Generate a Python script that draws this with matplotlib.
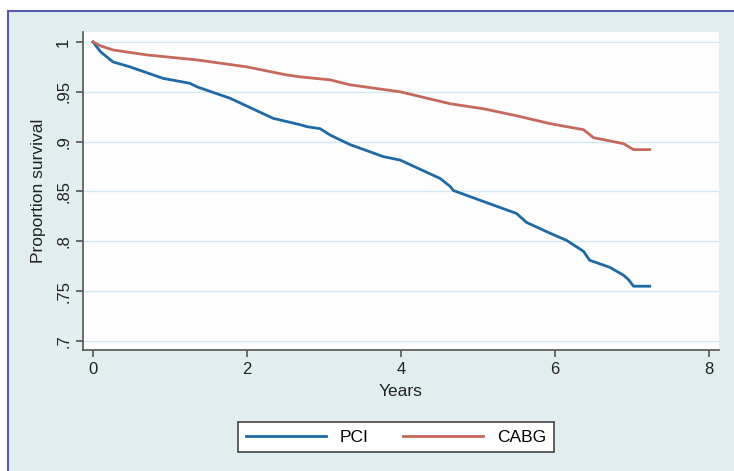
import matplotlib
matplotlib.use("Agg")
import matplotlib.pyplot as plt
from matplotlib.patches import Rectangle
from matplotlib.lines import Line2D

plt.rcParams["font.family"] = ["Liberation Sans", "DejaVu Sans"]

# curvas (anos, proporcao de sobrevivencia)
pci_years = [0, 0.1, 0.26, 0.48, 0.91, 1.26, 1.35, 1.78, 2.34, 2.69, 2.78, 2.95,
             3.08, 3.34, 3.77, 3.99, 4.51, 4.64, 4.68, 5.07, 5.5, 5.63, 5.94,
             6.15, 6.37, 6.45, 6.71, 6.89, 6.95, 7.02, 7.23]
pci_surv = [1.0, 0.99, 0.980, 0.975, 0.9635, 0.9585, 0.955, 0.9435, 0.9234, 0.917,
            0.915, 0.913, 0.9066, 0.897, 0.885, 0.8815, 0.863, 0.855, 0.851, 0.840,
            0.828, 0.819, 0.808, 0.801, 0.790, 0.781, 0.774, 0.766, 0.762, 0.755, 0.755]

cabg_years = [0, 0.1, 0.26, 0.7, 1.35, 2.0, 2.51, 2.69, 3.08, 3.34, 3.99, 4.64,
              5.07, 5.5, 5.94, 6.37, 6.5, 6.89, 7.02, 7.23]
cabg_surv = [1.0, 0.996, 0.992, 0.987, 0.982, 0.975, 0.967, 0.965, 0.962, 0.957,
             0.950, 0.938, 0.933, 0.926, 0.918, 0.912, 0.904, 0.898, 0.892, 0.892]

x_ticks = [0, 2, 4, 6, 8]
y_ticks = [0.7, 0.75, 0.8, 0.85, 0.9, 0.95, 1.0]
y_labels = [".7", ".75", ".8", ".85", ".9", ".95", "1"]

pci_color = "#1f6aa3"
cabg_color = "#c4695c"
bg_color = "#e0eef0"

fig = plt.figure(figsize=(7.34, 4.71), dpi=100)
fig.patch.set_facecolor("white")

# fundo azul claro com borda em cima e na esquerda
x0 = 8 / 734
y1 = 1 - 11 / 471
fig.patches.append(Rectangle((x0, 0), 1 - x0, y1, transform=fig.transFigure,
                             facecolor=bg_color, edgecolor="none", zorder=-5))
fig.add_artist(Line2D([x0, 1], [y1, y1], transform=fig.transFigure,
                      color="#5a5aa8", linewidth=1.5, zorder=-4))
fig.add_artist(Line2D([x0, x0], [0, y1], transform=fig.transFigure,
                      color="#5a5aa8", linewidth=1.5, zorder=-4))

ax = fig.add_axes([83 / 734, 121 / 471, 636 / 734, 318 / 471])
ax.set_zorder(5)
ax.set_facecolor("#fdfdfe")

ax.plot(pci_years, pci_surv, color=pci_color, linewidth=2, label="PCI")
ax.plot(cabg_years, cabg_surv, color=cabg_color, linewidth=2, label="CABG")

ax.set_xlim(-0.13, 8.13)
ax.set_ylim(0.691, 1.010)
ax.set_xticks(x_ticks)
ax.set_yticks(y_ticks)
ax.set_yticklabels(y_labels, rotation=90, va="center")
ax.grid(axis="y", color="#d3e9f2", linewidth=1)
ax.set_axisbelow(True)

for s in ["top", "right"]:
    ax.spines[s].set_visible(False)
for s in ["left", "bottom"]:
    ax.spines[s].set_color("#555555")
    ax.spines[s].set_linewidth(1.2)
ax.tick_params(direction="out", length=5, width=1.2, color="#555555",
               labelsize=12, labelcolor="#222222")

ax.set_xlabel("Years", fontsize=12.5, color="#222222", labelpad=5)
ax.set_ylabel("Proportion survival", fontsize=12.5, color="#222222", labelpad=7)

leg = ax.legend(loc="center", bbox_to_anchor=(396 / 734, 1 - 437 / 471),
                bbox_transform=fig.transFigure, ncol=2, fontsize=12.5,
                handlelength=4.6, columnspacing=2.0, fancybox=False,
                framealpha=1, borderpad=0.45)
leg.get_frame().set_edgecolor("#444444")
leg.get_frame().set_linewidth(1.2)

fig.savefig("out.png", dpi=100)
